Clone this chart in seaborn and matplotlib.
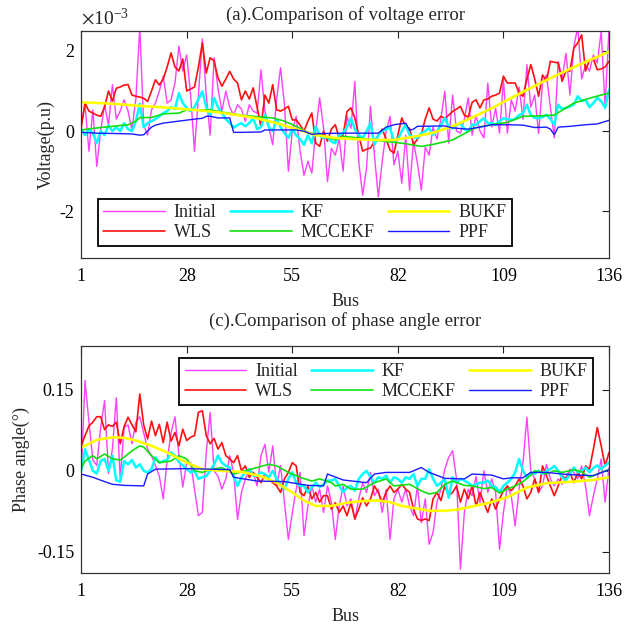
import numpy as np
import pandas as pd
import matplotlib
matplotlib.use('Agg')
import matplotlib.pyplot as plt
from matplotlib.ticker import FuncFormatter
import seaborn as sns

bus = np.arange(1, 137)

# ---- (a) voltage error, in units of 1e-3 p.u. ----
volt_initial = [
    0.16, 0.66, -0.5, 0.53, -0.88, 0.0, 0.66, 0.15, 1.16, 0.3,
    0.5, 0.78, 0.5, 0.03, 0.8, 2.6, 0.15, -0.1, 0.53, 0.7,
    1.0, 1.37, 0.7, 0.78, 1.2, 2.12, 1.5, 1.9, 0.9, -0.5,
    0.9, 2.3, 0.9, -0.1, 1.83, 1.07, 0.5, 1.0, 0.6, 0.4,
    0.66, 0.55, 0.24, 0.66, 0.5, 0.45, 1.53, 0.5, 0.1, -0.34,
    0.8, 1.58, 0.66, -1.0, 0.0, 0.37, -0.5, -1.1, -0.75, -1.05,
    0.0, 0.83, 0.08, -1.26, -0.43, -0.6, -0.2, -1.0, 0.36, 0.07,
    1.24, -0.76, -1.6, -0.9, 0.62, -0.6, -1.64, -0.75, 0.0, 0.37,
    -0.84, -0.5, -1.3, -0.1, -1.47, -0.26, -0.8, -1.47, -0.4, -0.6,
    0.1, -0.2, 0.3, 1.0, -0.3, 0.9, 0.0, -0.05, 0.3, 0.83,
    -0.1, 0.4, 0.0, -0.17, 1.2, 0.1, 0.57, -0.05, 1.28, -0.05,
    0.78, 0.5, 1.1, 0.3, 1.66, 0.6, 0.9, -0.06, 1.2, 1.4,
    0.6, -0.17, 1.74, 1.3, 1.94, 0.9, 2.1, 2.6, 1.3, 1.65,
    1.5, 1.9, 1.7, 2.5, 0.6, 2.6]
volt_wls = [
    0.08, 0.7, 0.5, 0.45, 0.4, 0.37, 0.6, 1.0, 0.75, 1.07,
    1.1, 1.15, 1.16, 0.9, 0.87, 0.85, 0.82, 0.74, 1.0, 1.28,
    1.15, 1.3, 1.6, 1.95, 1.6, 1.5, 1.8, 1.0, 1.05, 1.1,
    1.6, 2.2, 1.45, 1.83, 1.75, 1.33, 1.12, 1.3, 1.49, 1.3,
    1.2, 0.78, 1.0, 0.8, 1.08, 0.6, 0.1, 0.9, 0.7, 1.16,
    0.53, 0.5, 0.55, 0.62, 0.28, 0.28, 0.15, 0.0, 0.25, 0.45,
    -0.3, -0.38, 0.0, -0.25, 0.05, 0.16, -0.17, -0.1, 0.49, 0.58,
    0.33, -0.1, -0.5, -0.45, -0.42, -0.26, -0.09, 0.05, -0.2, -0.47,
    -0.55, -0.1, 0.33, 0.1, 0.07, -0.34, -0.2, -0.08, 0.3, 0.58,
    0.3, 0.25, 0.37, 0.32, 0.4, 0.49, 0.55, 0.62, 0.4, 0.35,
    0.72, 0.78, 0.58, 0.78, 0.8, 0.87, 0.9, 0.95, 1.37, 1.2,
    1.2, 1.2, 0.95, 0.87, 1.3, 1.66, 1.3, 0.87, 1.4, 1.25,
    1.74, 1.72, 1.7, 1.24, 1.5, 1.5, 2.07, 2.2, 2.4, 1.5,
    1.78, 1.8, 1.53, 1.55, 1.6, 1.74]
volt_kf = [
    0.05, -0.1, 0.05, -0.05, -0.3, 0.0, -0.1, 0.15, 0.0, 0.1,
    0.0, 0.2, 0.05, 0.0, 0.25, 0.68, 0.1, 0.2, 0.25, 0.3,
    0.37, 0.45, 0.5, 0.6, 0.55, 0.95, 0.7, 0.58, 0.5, 0.6,
    0.8, 0.99, 0.6, 0.39, 0.83, 0.6, 0.45, 0.3, 0.2, 0.09,
    0.15, 0.2, 0.12, 0.2, 0.32, 0.05, 0.1, 0.41, 0.1, 0.0,
    0.3, 0.1, -0.05, -0.17, 0.05, -0.1, -0.2, -0.34, -0.1, -0.3,
    0.12, -0.1, -0.17, -0.14, -0.26, -0.3, -0.1, -0.05, 0.1, 0.32,
    0.05, -0.1, -0.17, 0.0, 0.2, -0.34, -0.1, 0.0, 0.05, 0.08,
    -0.25, -0.2, 0.0, 0.16, -0.1, -0.15, -0.17, -0.05, 0.0, 0.08,
    -0.09, 0.0, 0.15, 0.33, 0.1, 0.07, 0.15, 0.2, 0.05, 0.0,
    0.16, 0.16, 0.25, 0.32, 0.2, 0.2, 0.16, 0.25, 0.32, 0.3,
    0.28, 0.3, 0.4, 0.45, 0.66, 0.4, 0.33, 0.32, 0.35, 0.41,
    0.3, 0.16, 0.66, 0.55, 0.58, 0.62, 0.66, 0.87, 0.75, 0.78,
    0.6, 0.7, 0.83, 0.75, 0.58, 1.03]
volt_mccekf_bus = [1, 5, 9, 13, 15, 16, 19, 22, 26, 28, 34, 38, 42, 46, 50, 53, 56, 59,
                   62, 66, 68, 73, 79, 83, 88, 91, 96, 100, 102, 106, 110, 114, 118,
                   122, 127, 131, 134, 136]
volt_mccekf = [0.03, 0.08, 0.12, 0.16, 0.25, 0.34, 0.34, 0.43, 0.45, 0.53, 0.53, 0.46,
               0.4, 0.36, 0.33, 0.25, 0.12, -0.03, -0.09, -0.22, -0.13, -0.18, -0.26,
               -0.3, -0.38, -0.33, -0.22, -0.01, 0.09, 0.16, 0.22, 0.37, 0.38, 0.4,
               0.7, 0.82, 0.9, 0.95]
volt_bukf_bus = [1, 6, 11, 16, 21, 26, 31, 36, 41, 46, 51, 56, 61, 66, 71, 76, 81, 86,
                 91, 96, 101, 106, 111, 116, 121, 126, 131, 136]
volt_bukf = [0.72, 0.7, 0.67, 0.63, 0.6, 0.56, 0.52, 0.47, 0.4, 0.32, 0.2, 0.05, -0.1,
             -0.17, -0.2, -0.22, -0.22, -0.14, -0.04, 0.12, 0.34, 0.57, 0.83, 1.08,
             1.32, 1.55, 1.77, 1.98]
volt_ppf_bus = [1, 5, 10, 14, 16, 17, 19, 20, 22, 26, 30, 32, 33, 34, 36, 39, 40, 42,
                47, 48, 56, 58, 60, 62, 68, 77, 79, 81, 84, 85, 86, 87, 94, 96, 100,
                103, 106, 110, 114, 117, 120, 121, 122, 123, 126, 130, 133, 136]
volt_ppf = [-0.03, -0.05, -0.06, -0.07, -0.1, -0.09, 0.1, 0.15, 0.2, 0.25, 0.3, 0.32,
            0.37, 0.37, 0.33, 0.33, -0.03, -0.03, -0.02, 0.03, 0.03, 0.0, -0.08, -0.06,
            -0.05, -0.05, 0.1, 0.16, 0.2, 0.02, 0.05, 0.12, 0.13, 0.08, 0.05, 0.1, 0.16,
            0.16, 0.15, 0.09, 0.1, 0.05, -0.09, 0.1, 0.12, 0.16, 0.18, 0.27]

# ---- (c) phase angle error, degrees ----
ang_initial = [
    -0.014, 0.167, 0.09, 0.02, 0.01, 0.08, 0.13, -0.005, 0.04, 0.135,
    -0.015, 0.08, 0.085, 0.05, 0.09, 0.1, 0.07, 0.04, 0.028, 0.01,
    -0.01, -0.052, 0.02, 0.07, 0.1, 0.03, -0.03, 0.015, 0.015, -0.034,
    -0.083, -0.077, 0.034, 0.108, 0.0, -0.01, -0.034, -0.015, 0.028, -0.003,
    -0.09, -0.04, -0.015, 0.0, -0.003, -0.028, 0.028, 0.049, -0.003, 0.046,
    -0.028, 0.01, -0.059, -0.127, -0.078, -0.034, -0.003, -0.12, -0.065, -0.028,
    -0.058, -0.034, -0.077, -0.028, -0.058, -0.127, -0.065, -0.028, -0.065, -0.052,
    -0.09, -0.052, -0.022, -0.04, -0.003, -0.046, -0.034, -0.077, -0.034, -0.127,
    -0.052, -0.034, -0.058, -0.034, -0.065, -0.083, -0.028, -0.096, -0.052, -0.136,
    -0.114, -0.058, -0.034, 0.003, 0.025, 0.037, -0.015, -0.182, -0.077, -0.034,
    -0.046, -0.01, -0.059, 0.0, -0.04, -0.015, -0.04, -0.145, -0.077, -0.028,
    -0.046, -0.102, -0.034, 0.015, 0.099, 0.0, -0.015, -0.04, -0.028, 0.012,
    -0.015, -0.028, -0.015, -0.025, -0.012, 0.003, -0.003, -0.015, 0.009, -0.028,
    -0.083, -0.046, -0.015, 0.022, -0.058, 0.006]
ang_wls = [
    0.046, 0.065, 0.083, 0.09, 0.1, 0.1, 0.076, 0.085, 0.082, 0.09,
    0.05, 0.082, 0.099, 0.085, 0.072, 0.142, 0.085, 0.059, 0.092, 0.065,
    0.086, 0.052, 0.09, 0.055, 0.071, 0.046, 0.077, 0.056, 0.062, 0.065,
    0.108, 0.111, 0.065, 0.05, 0.06, 0.04, 0.052, 0.028, 0.022, 0.015,
    0.028, 0.0, 0.009, -0.012, -0.003, -0.012, -0.022, -0.006, -0.015, -0.022,
    -0.028, -0.04, -0.015, -0.003, 0.015, 0.009, -0.04, -0.046, -0.028, -0.052,
    -0.04, -0.058, -0.046, -0.046, -0.071, -0.059, -0.077, -0.065, -0.083, -0.059,
    -0.089, -0.071, -0.05, -0.065, -0.052, -0.028, -0.04, -0.058, -0.04, -0.028,
    -0.04, -0.034, -0.025, -0.034, -0.04, -0.071, -0.089, -0.092, -0.089, -0.092,
    -0.052, -0.04, -0.055, -0.028, -0.046, -0.04, -0.028, -0.058, -0.034, -0.052,
    -0.028, -0.065, -0.04, -0.059, -0.077, -0.052, -0.071, -0.052, -0.037, -0.028,
    -0.037, -0.028, -0.015, -0.028, -0.052, -0.04, -0.015, -0.04, 0.009, -0.009,
    -0.028, -0.046, -0.028, -0.009, -0.015, -0.003, -0.022, -0.003, -0.015, 0.009,
    0.003, 0.04, 0.08, 0.046, 0.009, 0.034]
ang_kf = [
    0.0, 0.04, 0.02, 0.0, -0.005, 0.018, 0.022, 0.0, 0.028, -0.018,
    -0.02, 0.018, 0.012, 0.02, 0.006, 0.012, 0.0, -0.003, 0.003, 0.025,
    0.015, 0.018, 0.02, 0.034, 0.028, 0.016, 0.01, 0.003, -0.003, 0.0,
    -0.015, -0.012, -0.01, 0.0, 0.012, 0.028, 0.015, 0.009, 0.006, -0.01,
    -0.028, -0.012, -0.003, 0.003, -0.009, -0.009, -0.003, -0.006, -0.012, 0.0,
    -0.015, -0.025, -0.034, -0.015, -0.003, -0.022, -0.028, -0.028, -0.04, -0.03,
    -0.022, -0.03, -0.025, -0.018, -0.018, -0.015, -0.028, -0.04, -0.031, -0.028,
    -0.037, -0.015, -0.006, 0.0, -0.012, -0.022, -0.012, -0.015, -0.009, -0.022,
    -0.012, -0.015, -0.022, -0.012, -0.015, -0.006, -0.028, -0.015, -0.015, 0.003,
    -0.015, -0.028, -0.022, -0.015, -0.05, -0.012, -0.022, -0.015, -0.018, -0.022,
    -0.028, -0.025, -0.022, -0.022, -0.018, -0.028, -0.03, -0.04, -0.028, -0.022,
    -0.015, -0.003, 0.022, 0.0, -0.012, -0.003, -0.006, 0.0, -0.006, 0.0,
    0.003, 0.009, 0.0, -0.012, -0.018, -0.006, 0.006, -0.003, 0.0, 0.006,
    -0.003, 0.005, 0.01, 0.003, 0.01, 0.015]
ang_mccekf_bus = [1, 2, 4, 5, 7, 9, 11, 12, 14, 16, 17, 19, 21, 24, 26, 28, 30, 32, 34,
                  37, 40, 43, 46, 49, 51, 54, 57, 60, 62, 65, 66, 68, 70, 73, 76, 79,
                  81, 85, 88, 90, 92, 94, 96, 99, 101, 104, 106, 108, 110, 112, 114,
                  116, 117, 119, 120, 122, 124, 127, 129, 131, 132, 134, 136]
ang_mccekf = [0.005, 0.018, 0.028, 0.022, 0.031, 0.022, 0.02, 0.025, 0.037, 0.046,
              0.044, 0.028, 0.015, 0.018, 0.028, 0.022, 0.0, -0.003, 0.002, 0.006,
              -0.006, 0.0, 0.006, 0.012, 0.009, -0.003, -0.012, -0.019, -0.015, -0.022,
              -0.028, -0.025, -0.034, -0.034, -0.022, -0.015, -0.028, -0.025, -0.037,
              -0.043, -0.04, -0.025, -0.019, -0.027, -0.028, -0.033, -0.031, -0.041,
              -0.034, -0.028, -0.02, -0.008, 0.0, -0.003, -0.006, 0.0, -0.003, 0.002,
              -0.002, -0.012, -0.009, -0.003, 0.002]
ang_bukf_bus = [1, 5, 9, 12, 15, 19, 23, 28, 32, 37, 42, 47, 51, 55, 58, 61, 65, 69, 73,
                77, 80, 83, 87, 90, 94, 97, 101, 105, 110, 115, 120, 127, 132, 136]
ang_bukf = [0.043, 0.057, 0.062, 0.061, 0.056, 0.046, 0.034, 0.015, 0.003, 0.0, -0.002,
            -0.01, -0.022, -0.04, -0.055, -0.065, -0.065, -0.059, -0.056, -0.055,
            -0.058, -0.065, -0.07, -0.074, -0.074, -0.072, -0.066, -0.06, -0.049,
            -0.031, -0.023, -0.02, -0.017, -0.012]
ang_ppf_bus = [1, 4, 7, 9, 12, 17, 18, 20, 28, 34, 39, 40, 46, 53, 59, 63, 64, 68, 74,
               76, 79, 85, 88, 90, 94, 99, 101, 106, 109, 111, 114, 116, 120, 124, 128,
               132, 136]
ang_ppf = [-0.006, -0.012, -0.02, -0.025, -0.027, -0.028, -0.006, 0.003, 0.004, 0.003,
           0.002, -0.012, -0.019, -0.02, -0.027, -0.028, -0.006, -0.017, -0.022, -0.006,
           -0.003, -0.003, 0.006, -0.003, -0.014, -0.015, -0.006, -0.008, -0.015,
           -0.013, -0.013, -0.003, -0.003, -0.006, -0.008, -0.009, 0.002]

names = ['Initial', 'WLS', 'KF', 'MCCEKF', 'BUKF', 'PPF']
colors = {'Initial': '#ff40ff', 'WLS': '#ff1010', 'KF': '#00ffff',
          'MCCEKF': '#10e010', 'BUKF': '#ffff00', 'PPF': '#1a1aff'}
widths = {'Initial': 1.0, 'WLS': 1.2, 'KF': 1.8, 'MCCEKF': 1.2, 'BUKF': 1.9, 'PPF': 1.0}

volt = {
    'Initial': (bus, np.array(volt_initial) * 1e-3),
    'WLS': (bus, np.array(volt_wls) * 1e-3),
    'KF': (bus, np.array(volt_kf) * 1e-3),
    'MCCEKF': (volt_mccekf_bus, np.array(volt_mccekf) * 1e-3),
    'BUKF': (volt_bukf_bus, np.array(volt_bukf) * 1e-3),
    'PPF': (volt_ppf_bus, np.array(volt_ppf) * 1e-3),
}
ang = {
    'Initial': (bus, ang_initial),
    'WLS': (bus, ang_wls),
    'KF': (bus, ang_kf),
    'MCCEKF': (ang_mccekf_bus, ang_mccekf),
    'BUKF': (ang_bukf_bus, ang_bukf),
    'PPF': (ang_ppf_bus, ang_ppf),
}

sns.set_style('white')
plt.rcParams['font.family'] = ['Liberation Serif', 'DejaVu Serif']
plt.rcParams['mathtext.fontset'] = 'stix'
plt.rcParams['axes.unicode_minus'] = False
fs = 13

fig = plt.figure(figsize=(6.24, 6.30), dpi=100)
ax1 = fig.add_axes([0.13, 0.590, 0.846, 0.361])
ax2 = fig.add_axes([0.13, 0.0905, 0.846, 0.3605])


def draw(ax, series):
    for name in names:
        x, y = series[name]
        df = pd.DataFrame({'Bus': x, 'err': y})
        sns.lineplot(data=df, x='Bus', y='err', ax=ax, color=colors[name],
                     linewidth=widths[name], label=name, legend=False)
    ax.set_xlim(1, 136)
    ax.set_xticks([1, 28, 55, 82, 109, 136])
    ax.tick_params(direction='in', top=True, right=True, length=5, width=0.8,
                   labelsize=fs, colors='#222222', labelcolor='black')
    ax.tick_params(axis='x', pad=7)
    ax.tick_params(axis='y', pad=5)
    for s in ax.spines.values():
        s.set_color('#333333')
        s.set_linewidth(0.9)
    ax.set_xlabel('Bus', fontsize=fs, labelpad=6)


def add_legend(ax, **kw):
    h, l = ax.get_legend_handles_labels()
    leg = ax.legend(h, l, ncol=3, borderaxespad=0, fontsize=fs, handlelength=3.4,
                    columnspacing=0.75, labelspacing=0.15, borderpad=0.3,
                    handletextpad=0.5, fancybox=False, framealpha=1,
                    edgecolor='black', **kw)
    leg.get_frame().set_linewidth(1.3)


draw(ax1, volt)
ax1.set_ylim(-3.17e-3, 2.5e-3)
ax1.set_yticks([-2e-3, 0, 2e-3])
ax1.yaxis.set_major_formatter(FuncFormatter(lambda v, p: f'{v * 1e3:g}'))
ax1.text(0.0, 1.012, r'$\times\mathregular{10^{-3}}$', transform=ax1.transAxes,
         fontsize=14, ha='left', va='bottom')
ax1.set_ylabel('Voltage(p.u)', fontsize=fs, labelpad=3)
ax1.set_title('(a).Comparison of voltage error', fontsize=13.5, pad=8)
add_legend(ax1, loc='lower left', bbox_to_anchor=(0.032, 0.053))

draw(ax2, ang)
ax2.set_ylim(-0.189, 0.231)
ax2.set_yticks([-0.15, 0, 0.15])
ax2.set_yticklabels(['-0.15', '0', '0.15'])
ax2.set_ylabel('Phase angle(°)', fontsize=fs, labelpad=5)
ax2.set_title('(c).Comparison of phase angle error', fontsize=13.5, pad=14)
add_legend(ax2, loc='upper right', bbox_to_anchor=(0.97, 0.947))

fig.savefig('out.png', dpi=100)
